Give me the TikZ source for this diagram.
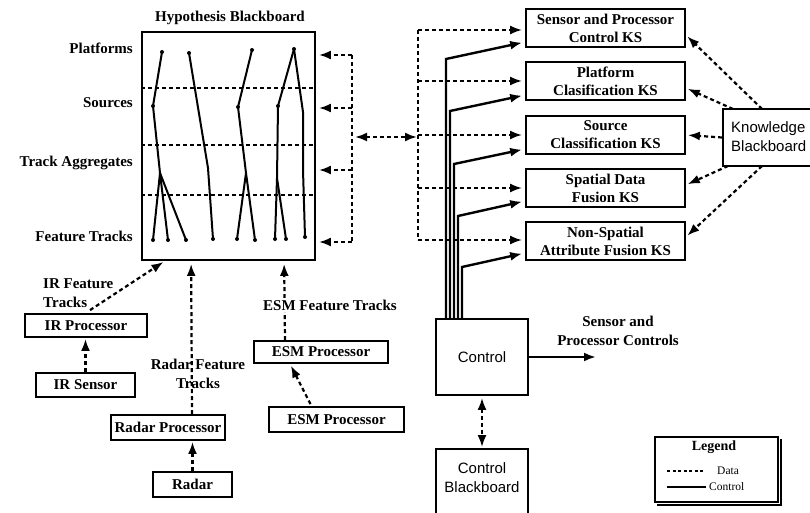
\documentclass[tikz,border=0pt]{standalone}
\usepackage{fontspec}
\setmainfont{Liberation Serif}
\newfontfamily\sansf{Liberation Sans}
\usetikzlibrary{arrows.meta,calc}
\begin{document}
\begin{tikzpicture}[x=1pt,y=-1pt,
  box/.style={draw,line width=1.8pt,inner sep=0pt,font=\fontsize{15}{18}\selectfont\bfseries,align=center},
  ksbox/.style={box,minimum width=159pt,minimum height=38pt},
  lbl/.style={inner sep=0pt,font=\fontsize{15}{19}\selectfont\bfseries,align=center},
  sanslbl/.style={inner sep=0pt,font=\fontsize{15}{19}\selectfont\sansf,align=center},
  data/.style={line width=2.2pt,dash pattern=on 4pt off 3pt},
  ctrl/.style={line width=2.4pt},
  tip/.style={-{Latex[length=12pt,width=9pt]}},
  both/.style={{Latex[length=12pt,width=9pt]}-{Latex[length=12pt,width=9pt]}},
  hline/.style={line width=2pt},
]
\useasboundingbox (0,0) rectangle (810,513);

% ---------------- Hypothesis blackboard
\node[box,minimum width=173pt,minimum height=228pt] (hb) at (228.5,146) {};
\node[lbl] (hbt) at (230,18) {Hypothesis Blackboard};
\node[lbl,anchor=east] (lpl) at (133,48) {Platforms};
\node[lbl,anchor=east] (lso) at (133,103) {Sources};
\node[lbl,anchor=east] (lta) at (133,163) {Track Aggregates};
\node[lbl,anchor=east] (lft) at (133,236) {Feature Tracks};
\foreach \yy in {88,145,195}{
  \coordinate (tmp) at (0,\yy);
  \draw[data] (hb.west |- tmp) -- (hb.east |- tmp);
}
% hypothesis graph
\coordinate (p1) at (162,52); \coordinate (s1) at (153,106); \coordinate (t1) at (160,173);
\coordinate (f1a) at (153,240); \coordinate (f1b) at (168,240); \coordinate (f1c) at (186,240);
\coordinate (p2) at (189,53); \coordinate (t2) at (208,168); \coordinate (f2) at (213,239);
\coordinate (p3) at (252,50); \coordinate (s3) at (238,107); \coordinate (t3) at (246,173);
\coordinate (f3a) at (237,239); \coordinate (f3b) at (255,240);
\coordinate (p4) at (294,49); \coordinate (s4a) at (278,106); \coordinate (t4a) at (277,178);
\coordinate (f4a) at (275,239); \coordinate (f4b) at (286,239);
\coordinate (s4b) at (303,112); \coordinate (t4b) at (303,170); \coordinate (f4c) at (305,237);
\draw[hline] (p1) -- (s1) -- (t1) -- (f1a);
\draw[hline] (t1) -- (f1b);
\draw[hline] (t1) -- (f1c);
\draw[hline] (p2) -- (t2) -- (f2);
\draw[hline] (p3) -- (s3) -- (t3) -- (f3a);
\draw[hline] (t3) -- (f3b);
\draw[hline] (p4) -- (s4a) -- (t4a) -- (f4a);
\draw[hline] (t4a) -- (f4b);
\draw[hline] (p4) -- (s4b) -- (t4b) -- (f4c);
\foreach \pp in {p1,p2,p3,p4,s1,s3,s4a,f1a,f1b,f1c,f2,f3a,f3b,f4a,f4b,f4c}{
  \fill (\pp) circle (2pt);
}

% ---------------- data bus 1
\coordinate (b1a) at (352,55);
\coordinate (b1b) at (352,108);
\coordinate (b1c) at (352,170);
\coordinate (b1d) at (352,242);
\coordinate (b1m) at (352,137);
\draw[data] (b1a) -- (b1d);
\foreach \cc in {b1a,b1b,b1c,b1d}{
  \draw[data,tip,shorten >=3pt] (\cc) -- (hb.east |- \cc);
}

% ---------------- KS boxes
\node[ksbox] (ks1) at (605.5,28) {Sensor and Processor\\Control KS};
\node[ksbox] (ks2) at (605.5,81) {Platform\\Clasification KS};
\node[ksbox] (ks3) at (605.5,135) {Source\\Classification KS};
\node[ksbox] (ks4) at (605.5,188) {Spatial Data\\Fusion KS};
\node[ksbox] (ks5) at (605.5,241) {Non-Spatial\\Attribute Fusion KS};

% ---------------- data bus 2
\coordinate (b2t) at (418,30);
\coordinate (b2b) at (418,240);
\coordinate (b2m) at (418,137);
\draw[data] (b2t) -- (b2b);
\draw[data,both,shorten <=3pt,shorten >=1pt] (b1m) -- (b2m);
\draw[data,tip,shorten >=3pt] (b2t) -- (ks1.west |- b2t);
\draw[data,tip,shorten >=3pt] (ks2.west -| b2t) -- (ks2.west);
\draw[data,tip,shorten >=3pt] (ks3.west -| b2t) -- (ks3.west);
\draw[data,tip,shorten >=3pt] (ks4.west -| b2t) -- (ks4.west);
\draw[data,tip,shorten >=3pt] (b2b) -- (ks5.west |- b2b);

% ---------------- Knowledge blackboard
\node[draw,line width=1.8pt,minimum width=107pt,minimum height=57pt,inner sep=0pt] (kb) at (776.5,137.5) {};
\node[sanslbl,anchor=west,align=left] (kbt) at (731,137) {Knowledge\\Blackboard};
\coordinate (kq1) at (762,109);
\coordinate (kq2) at (733,109);
\coordinate (kq4) at (728,166);
\coordinate (kq5) at (762,166);
\draw[data,tip,shorten >=2pt] (kq1) -- ($(ks1.east)+(0,7)$);
\draw[data,tip,shorten >=2pt] (kq2) -- ($(ks2.east)+(0,7)$);
\draw[data,tip,shorten >=2pt] (kb.west) -- (ks3.east);
\draw[data,tip,shorten >=2pt] (kq4) -- ($(ks4.east)+(0,-3)$);
\draw[data,tip,shorten >=2pt] (kq5) -- ($(ks5.east)+(0,-4)$);

% ---------------- Control
\node[draw,line width=1.8pt,minimum width=92pt,minimum height=76pt,inner sep=0pt,font=\fontsize{15}{18}\selectfont\sansf] (ctl) at (482,357) {Control};
\coordinate (k1) at (446,59);
\coordinate (k2) at (450,111);
\coordinate (k3) at (454,164);
\coordinate (k4) at (458,216);
\coordinate (k5) at (462,267);
\draw[ctrl,tip,shorten >=3pt] (ctl.north -| k1) -- (k1) -- ($(ks1.west)+(0,14)$);
\draw[ctrl,tip,shorten >=3pt] (ctl.north -| k2) -- (k2) -- ($(ks2.west)+(0,14)$);
\draw[ctrl,tip,shorten >=3pt] (ctl.north -| k3) -- (k3) -- ($(ks3.west)+(0,14)$);
\draw[ctrl,tip,shorten >=3pt] (ctl.north -| k4) -- (k4) -- ($(ks4.west)+(0,13)$);
\draw[ctrl,tip,shorten >=3pt] (ctl.north -| k5) -- (k5) -- ($(ks5.west)+(0,12)$);

\coordinate (spc) at (596,0);
\draw[ctrl,tip] (ctl.east) -- (ctl.east -| spc);
\node[lbl] (spl) at (618,331) {Sensor and\\Processor Controls};

% Control blackboard
\node[draw,line width=1.8pt,minimum width=92pt,minimum height=80pt,inner sep=0pt] (cb) at (482,489) {};
\node[sanslbl] (cbt) at (482,478) {Control\\Blackboard};
\draw[data,both,shorten <=2pt,shorten >=1pt] (ctl.south) -- (cb.north);

% ---------------- Sensors / processors
\node[box,minimum width=122pt,minimum height=23pt] (irp) at (86,325.5) {IR Processor};
\node[box,minimum width=99pt,minimum height=24pt] (irs) at (85.5,385) {IR Sensor};
\node[box,minimum width=114pt,minimum height=25pt] (rdp) at (168,427.5) {Radar Processor};
\node[box,minimum width=79pt,minimum height=25pt] (rd) at (192.5,484.5) {Radar};
\node[box,minimum width=134pt,minimum height=22pt] (esm1) at (321,352) {ESM Processor};
\node[box,minimum width=135pt,minimum height=25pt] (esm2) at (336.5,419.5) {ESM Processor};

\draw[data,tip,shorten >=1pt] (irs.north) -- (irs.north |- irp.south);
\draw[data,tip,shorten >=2pt] ($(irp.north)+(4,-3)$) -- ($(hb.south west)+(24,0)$);
\node[lbl,anchor=west,align=left] (irl) at (43,293) {IR Feature\\Tracks};

\draw[data,tip,shorten >=1pt] (rd.north) -- (rd.north |- rdp.south);
\draw[data,tip,shorten >=3pt] ($(rdp.north)+(24,0)$) -- ($(hb.south west)+(50,0)$);
\node[lbl] (rdl) at (198,374) {Radar Feature\\Tracks};

\draw[data,tip,shorten >=3pt] ($(esm1.north)+(-36,0)$) -- ($(hb.south west)+(143,0)$);
\node[lbl,fill=white,inner ysep=2pt] (esml) at (330,305) {ESM Feature Tracks};
\draw[data,tip,shorten >=2pt] ($(esm2.north)+(-26,-2)$) -- ($(esm1.south)+(-31,0)$);

% ---------------- Legend
\node[draw,line width=1.4pt,minimum width=123pt,minimum height=65pt,inner sep=0pt] (lg) at (716.5,469.5) {};
\draw[line width=2.2pt] ($(lg.north east)+(2.5,3)$) -- ($(lg.south east)+(2.5,2.5)$) -- ($(lg.south west)+(3,2.5)$);
\node[inner sep=0pt,font=\fontsize{14}{16}\selectfont\bfseries] (lgt) at (714,447) {Legend};
\node[inner sep=0pt,anchor=west,font=\fontsize{11.5}{13}\selectfont] (lgd) at (717,471) {Data};
\node[inner sep=0pt,anchor=west,font=\fontsize{11.5}{13}\selectfont] (lgc) at (709,487) {Control};
\coordinate (lgs) at (667,0);
\draw[line width=1.4pt,dash pattern=on 3pt off 2.5pt] (lgd.west -| lgs) -- ($(lgd.west)+(-14,0)$);
\draw[line width=1.5pt] (lgc.west -| lgs) -- ($(lgc.west)+(-3,0)$);
\end{tikzpicture}
\end{document}
